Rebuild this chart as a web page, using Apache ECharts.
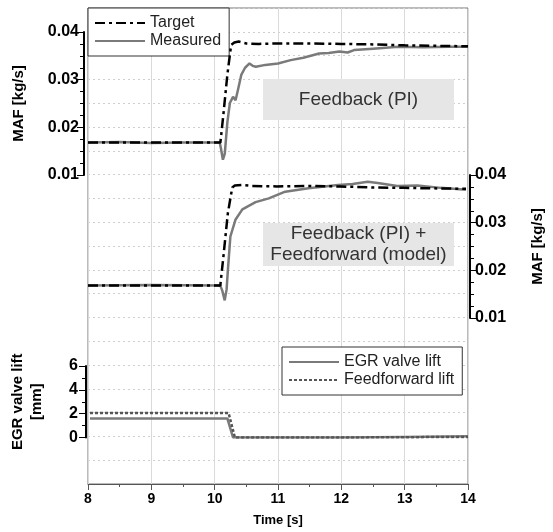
<!DOCTYPE html>
<html>
<head>
<meta charset="utf-8">
<script src="https://cdn.jsdelivr.net/npm/echarts@6/dist/echarts.min.js"></script>
<style>
  html, body { margin: 0; padding: 0; background: #fff; }
  #chart { width: 553px; height: 532px; }
</style>
</head>
<body>
<div id="chart"></div>
<script>
// time [s] / value pairs
var timeTicks = [8, 9, 10, 11, 12, 13, 14];

// upper panel: feedback (PI) only
var fbTargetT = [8, 10.09, 10.14, 10.2, 10.26, 10.31, 10.38, 10.5, 10.7, 11, 11.5, 12, 12.5, 13, 13.5, 14];
var fbTargetV = [0.0168, 0.0168, 0.023, 0.031, 0.0373, 0.0378, 0.038, 0.0376, 0.0375, 0.0376, 0.0376, 0.0375, 0.0374, 0.0372, 0.0371, 0.037];
var fbMeasT = [8, 8.5, 9, 9.5, 10, 10.08, 10.1, 10.13, 10.16, 10.2, 10.24, 10.29, 10.33, 10.37, 10.42, 10.48, 10.55, 10.6, 10.65, 10.8, 11, 11.2, 11.4, 11.65, 11.8, 11.97, 12.1, 12.2, 12.5, 12.9, 13.3, 13.7, 14];
var fbMeasV = [0.0168, 0.0169, 0.0167, 0.0168, 0.0168, 0.0168, 0.0155, 0.0132, 0.0145, 0.021, 0.0251, 0.0264, 0.0257, 0.028, 0.031, 0.0325, 0.0334, 0.0329, 0.0327, 0.0331, 0.0334, 0.0341, 0.0346, 0.0355, 0.0356, 0.0359, 0.0357, 0.0362, 0.0365, 0.0369, 0.0368, 0.0369, 0.0369];

// middle panel: feedback (PI) + feedforward (model)
var ffTargetT = [8, 10.1, 10.15, 10.22, 10.29, 10.33, 10.45, 10.6, 11, 11.5, 12, 12.5, 13, 13.5, 14];
var ffTargetV = [0.0168, 0.0168, 0.023, 0.032, 0.0374, 0.0378, 0.0379, 0.0377, 0.0376, 0.0377, 0.0376, 0.0374, 0.0373, 0.0372, 0.0371];
var ffMeasT = [8, 9, 10.1, 10.13, 10.17, 10.2, 10.22, 10.26, 10.34, 10.45, 10.66, 10.87, 11.13, 11.5, 11.97, 12.2, 12.44, 12.6, 12.91, 13.23, 13.6, 14];
var ffMeasV = [0.0168, 0.0169, 0.0168, 0.0158, 0.0137, 0.016, 0.02, 0.0271, 0.0306, 0.0328, 0.0343, 0.0351, 0.0365, 0.0372, 0.0379, 0.0381, 0.0386, 0.0383, 0.0377, 0.0378, 0.0373, 0.0369];

// lower panel: valve lift [mm]
var egrLiftT = [8, 10.18, 10.27, 12, 13, 14];
var egrLiftV = [1.6, 1.6, 0, 0, 0.05, 0.1];
var ffLiftT = [8, 10.2, 10.3, 12, 14];
var ffLiftV = [2.05, 2.05, 0, 0, 0.05];

function pairs(t, v) {
    return t.map(function (x, i) { return [x, v[i]]; });
}

var chart = echarts.init(document.getElementById('chart'));

var FONT = 'Liberation Sans';
var L = 88, W = 380;

function hiddenX(idx) {
    return {
        gridIndex: idx, type: 'value', min: 8, max: 14, show: false
    };
}
function mafAxis(idx, pos) {
    return {
        gridIndex: idx, type: 'value', position: pos, offset: 4,
        min: 0.01, max: 0.04, interval: 0.01,
        name: 'MAF [kg/s]', nameLocation: 'middle', nameGap: pos === 'left' ? 58 : 60,
        nameRotate: 90,
        nameTextStyle: { fontFamily: FONT, fontWeight: 'bold', fontSize: 15, color: '#000' },
        axisLine: { show: true, lineStyle: { color: '#000', width: 2 } },
        axisTick: { show: true, length: 7, lineStyle: { color: '#000', width: 1 } },
        minorTick: { show: true, splitNumber: 4, length: 4, lineStyle: { color: '#000' } },
        axisLabel: {
            fontFamily: FONT, fontWeight: 'bold', fontSize: 16, color: '#000', margin: 5,
            formatter: function (v) { return v.toFixed(2); }
        },
        splitLine: { show: false }
    };
}
function legendBox(names, left, top) {
    return {
        data: names,
        orient: 'vertical', left: left, top: top,
        backgroundColor: '#fff', borderColor: '#333', borderWidth: 1,
        padding: [7, 8, 7, 6], itemGap: 2, itemWidth: 50, itemHeight: 15,
        itemStyle: { opacity: 0 },
        textStyle: { fontFamily: FONT, fontSize: 16, color: '#222' }
    };
}
function noteBox(text, x, y, h) {
    return {
        type: 'group', x: x, y: y,
        children: [
            {
                type: 'rect', z: 1,
                shape: { x: 0, y: 0, width: 191, height: h }, style: { fill: '#e6e6e6' }
            },
            {
                type: 'text', z: 2,
                style: {
                    text: text, x: 95.5, y: h / 2, align: 'center', verticalAlign: 'middle',
                    font: '19px "Liberation Sans"', fill: '#333', lineHeight: 21
                }
            }
        ]
    };
}

var option = {
    animation: false,
    backgroundColor: '#fff',
    grid: [
        { left: L, top: 8, width: W, height: 477, show: true, borderColor: '#777', borderWidth: 1 },
        { left: L, top: 32, width: W, height: 143 },
        { left: L, top: 175, width: W, height: 143 },
        { left: L, top: 366, width: W, height: 71.5 }
    ],
    xAxis: [
        {
            gridIndex: 0, type: 'value', min: 8, max: 14, interval: 1,
            name: 'Time [s]', nameLocation: 'middle', nameGap: 30,
            nameTextStyle: { fontFamily: FONT, fontWeight: 'bold', fontSize: 13, color: '#000' },
            axisLine: { show: true, lineStyle: { color: '#555', width: 1 } },
            axisTick: { show: true, length: 6, lineStyle: { color: '#555' } },
            minorTick: { show: true, splitNumber: 2, length: 3, lineStyle: { color: '#555' } },
            axisLabel: {
                fontFamily: FONT, fontWeight: 'bold', fontSize: 14, color: '#000', margin: 8,
                formatter: function (v) { return timeTicks.indexOf(v) >= 0 ? String(v) : ''; }
            },
            splitLine: { show: true, lineStyle: { color: '#dadada', width: 1 } }
        },
        hiddenX(1), hiddenX(2), hiddenX(3)
    ],
    yAxis: [
        {
            gridIndex: 0, type: 'value', min: 0, max: 20, interval: 1,
            axisLine: { show: false }, axisTick: { show: false }, axisLabel: { show: false },
            splitLine: { show: true, lineStyle: { color: '#cfcfcf', type: [2, 3], width: 1 } }
        },
        mafAxis(1, 'left'),
        mafAxis(2, 'right'),
        {
            gridIndex: 3, type: 'value', position: 'left', offset: 4,
            min: 0, max: 6, interval: 2,
            name: 'EGR valve lift\n[mm]', nameLocation: 'middle', nameGap: 40, nameRotate: 90,
            nameTextStyle: { fontFamily: FONT, fontWeight: 'bold', fontSize: 15, color: '#000', lineHeight: 19 },
            axisLine: { show: true, lineStyle: { color: '#000', width: 2 } },
            axisTick: { show: true, length: 7, lineStyle: { color: '#000' } },
            minorTick: { show: true, splitNumber: 2, length: 4, lineStyle: { color: '#000' } },
            axisLabel: { fontFamily: FONT, fontWeight: 'bold', fontSize: 16, color: '#000', margin: 8 },
            splitLine: { show: false }
        }
    ],
    legend: [
        legendBox(['Target', 'Measured'], L, 8),
        legendBox(['EGR valve lift', 'Feedforward lift'], 282, 347)
    ],
    graphic: [
        noteBox('Feedback (PI)', 263, 79, 41),
        noteBox('Feedback (PI) +\nFeedforward (model)', 263, 223, 43)
    ],
    series: [
        {
            name: 'Target', type: 'line', xAxisIndex: 1, yAxisIndex: 1, symbol: 'none', z: 4,
            color: '#000', lineStyle: { color: '#000', width: 2.5, type: [10, 4, 3, 4] },
            data: pairs(fbTargetT, fbTargetV)
        },
        {
            name: 'Measured', type: 'line', xAxisIndex: 1, yAxisIndex: 1, symbol: 'none', z: 3,
            color: '#7a7a7a', lineStyle: { color: '#7a7a7a', width: 2.5 },
            data: pairs(fbMeasT, fbMeasV)
        },
        {
            name: 'Target', type: 'line', xAxisIndex: 2, yAxisIndex: 2, symbol: 'none', z: 4,
            color: '#000', lineStyle: { color: '#000', width: 2.5, type: [10, 4, 3, 4] },
            data: pairs(ffTargetT, ffTargetV)
        },
        {
            name: 'Measured', type: 'line', xAxisIndex: 2, yAxisIndex: 2, symbol: 'none', z: 3,
            color: '#7a7a7a', lineStyle: { color: '#7a7a7a', width: 2.5 },
            data: pairs(ffMeasT, ffMeasV)
        },
        {
            name: 'EGR valve lift', type: 'line', xAxisIndex: 3, yAxisIndex: 3, symbol: 'none', z: 3,
            color: '#7a7a7a', lineStyle: { color: '#7a7a7a', width: 2.5 },
            data: pairs(egrLiftT, egrLiftV)
        },
        {
            name: 'Feedforward lift', type: 'line', xAxisIndex: 3, yAxisIndex: 3, symbol: 'none', z: 4,
            color: '#555', lineStyle: { color: '#555', width: 2.5, type: [3, 2] },
            data: pairs(ffLiftT, ffLiftV)
        }
    ]
};

chart.setOption(option);
</script>
</body>
</html>
